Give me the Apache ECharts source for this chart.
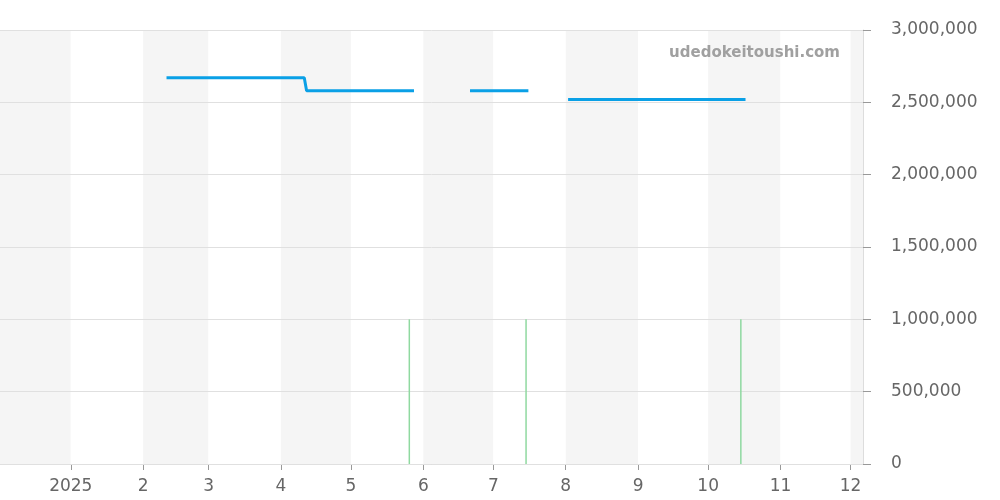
<!DOCTYPE html>
<html>
<head>
<meta charset="utf-8">
<script src="https://cdn.jsdelivr.net/npm/echarts@6/dist/echarts.min.js"></script>
<style>html,body{margin:0;padding:0;}#main{width:1000px;height:500px;}</style>
</head>
<body>
<div id="main"></div>
<script>
var priceDates = ["2025-02-11", "2025-04-11", "2025-04-12", "2025-05-28", "2025-06-05", "2025-06-21", "2025-07-16", "2025-07-25", "2025-08-02", "2025-10-17"];
var priceValues = [2670000, 2670000, 2580000, 2580000, "-", 2580000, 2580000, "-", 2520000, 2520000];
var volumeDates = ["2025-05-26", "2025-07-15", "2025-10-15"];
var volumeValues = [1000000, 1000000, 1000000];

var chart = echarts.init(document.getElementById("main"));
chart.setOption({
  animation: false,
  grid: { left: 0, right: 137, top: 30, bottom: 36 },
  graphic: [{
    type: "text", right: 160, top: 46, z: 100,
    style: { text: "udedokeitoushi.com", fill: "#a0a0a0", font: "bold 15px 'DejaVu Sans'" }
  }],
  xAxis: {
    type: "time",
    z: 0,
    min: "2024-12-02",
    max: "2025-12-06",
    minInterval: 28 * 86400000,
    maxInterval: 31 * 86400000,
    axisLine: { lineStyle: { color: "#ccc" } },
    axisTick: { show: true, length: 6, lineStyle: { color: "#999" } },
    axisLabel: {
      color: "#666", fontSize: 17, fontFamily: "DejaVu Sans", margin: 14,
      formatter: function (v) {
        var d = new Date(v);
        return d.getMonth() === 0 ? String(d.getFullYear()) : String(d.getMonth() + 1);
      }
    },
    splitLine: { show: false },
    splitArea: { show: true, areaStyle: { color: ["#f5f5f5", "#ffffff"] } }
  },
  yAxis: {
    type: "value",
    z: 3,
    position: "right",
    min: 0, max: 3000000, interval: 500000,
    axisLine: { show: true, lineStyle: { color: "#ddd" } },
    axisTick: { show: true, length: 8, lineStyle: { color: "#999" } },
    axisLabel: {
      color: "#666", fontSize: 17, fontFamily: "DejaVu Sans", margin: 28,
      verticalAlign: "middle", padding: [4, 0, 0, 0],
      formatter: function (v) { return v.toLocaleString("en-US"); }
    },
    splitLine: { lineStyle: { color: "#e0e0e0" } }
  },
  series: [
    {
      type: "bar",
      z: 4,
      barWidth: 1.5,
      itemStyle: { color: "#8fd9a0" },
      data: volumeDates.map(function (d, i) { return [d, volumeValues[i]]; })
    },
    {
      type: "line",
      z: 5,
      showSymbol: false,
      connectNulls: false,
      lineStyle: { color: "#0aa0e6", width: 3 },
      itemStyle: { color: "#0aa0e6" },
      data: priceDates.map(function (d, i) { return [d, priceValues[i]]; })
    }
  ]
});
</script>
</body>
</html>
